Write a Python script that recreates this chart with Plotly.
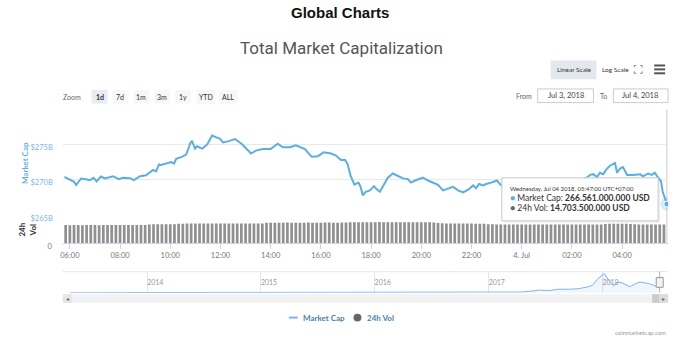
import plotly.graph_objects as go
import pandas as pd

W, H = 696, 351

# ---------------- data ----------------
mc_times = [
    "2018-07-03 05:47", "2018-07-03 06:00", "2018-07-03 06:10", "2018-07-03 06:15", "2018-07-03 06:27",
    "2018-07-03 06:38", "2018-07-03 06:48", "2018-07-03 06:57", "2018-07-03 07:04", "2018-07-03 07:14",
    "2018-07-03 07:24", "2018-07-03 07:43", "2018-07-03 07:57", "2018-07-03 08:07", "2018-07-03 08:24",
    "2018-07-03 08:33", "2018-07-03 08:48", "2018-07-03 09:02", "2018-07-03 09:11", "2018-07-03 09:19",
    "2018-07-03 09:26", "2018-07-03 09:33", "2018-07-03 09:38", "2018-07-03 09:50", "2018-07-03 10:02",
    "2018-07-03 10:09", "2018-07-03 10:14", "2018-07-03 10:26", "2018-07-03 10:38", "2018-07-03 10:43",
    "2018-07-03 10:48", "2018-07-03 10:52", "2018-07-03 10:59", "2018-07-03 11:04", "2018-07-03 11:16",
    "2018-07-03 11:28", "2018-07-03 11:40", "2018-07-03 11:49", "2018-07-03 11:59", "2018-07-03 12:06",
    "2018-07-03 12:18", "2018-07-03 12:35", "2018-07-03 12:51", "2018-07-03 13:13", "2018-07-03 13:25",
    "2018-07-03 13:41", "2018-07-03 14:00", "2018-07-03 14:17", "2018-07-03 14:29", "2018-07-03 14:46",
    "2018-07-03 15:00", "2018-07-03 15:22", "2018-07-03 15:38", "2018-07-03 15:53", "2018-07-03 16:07",
    "2018-07-03 16:24", "2018-07-03 16:36", "2018-07-03 16:48", "2018-07-03 16:58", "2018-07-03 17:04",
    "2018-07-03 17:11", "2018-07-03 17:20", "2018-07-03 17:30", "2018-07-03 17:35", "2018-07-03 17:40",
    "2018-07-03 17:47", "2018-07-03 17:57", "2018-07-03 18:07", "2018-07-03 18:11", "2018-07-03 18:21",
    "2018-07-03 18:33", "2018-07-03 18:40", "2018-07-03 18:52", "2018-07-03 19:04", "2018-07-03 19:16",
    "2018-07-03 19:28", "2018-07-03 19:35", "2018-07-03 19:45", "2018-07-03 20:04", "2018-07-03 20:16",
    "2018-07-03 20:28", "2018-07-03 20:40", "2018-07-03 20:52", "2018-07-03 21:04", "2018-07-03 21:16",
    "2018-07-03 21:28", "2018-07-03 21:40", "2018-07-03 21:52", "2018-07-03 22:04", "2018-07-03 22:11",
    "2018-07-03 22:18", "2018-07-03 22:28", "2018-07-03 22:35", "2018-07-03 22:47", "2018-07-03 23:01",
    "2018-07-03 23:08", "2018-07-03 23:16", "2018-07-03 23:30", "2018-07-04 00:00", "2018-07-04 00:30",
    "2018-07-04 01:00", "2018-07-04 01:30", "2018-07-04 02:00", "2018-07-04 02:20", "2018-07-04 02:35",
    "2018-07-04 02:44", "2018-07-04 02:51", "2018-07-04 03:00", "2018-07-04 03:07", "2018-07-04 03:15",
    "2018-07-04 03:24", "2018-07-04 03:31", "2018-07-04 03:38", "2018-07-04 03:43", "2018-07-04 03:48",
    "2018-07-04 03:55", "2018-07-04 04:02", "2018-07-04 04:12", "2018-07-04 04:26", "2018-07-04 04:43",
    "2018-07-04 04:50", "2018-07-04 05:02", "2018-07-04 05:11", "2018-07-04 05:18", "2018-07-04 05:25",
    "2018-07-04 05:33", "2018-07-04 05:37", "2018-07-04 05:42", "2018-07-04 05:47",
]
mc_values_b = [
    270.42, 270.09, 269.72, 269.25, 270.19,
    270.09, 269.95, 270.28, 269.77, 270.47,
    270.19, 270.51, 270.09, 270.28, 270.23,
    269.95, 270.51, 270.65, 271.12, 271.40,
    271.21, 272.19, 272.10, 272.29, 272.52,
    272.29, 272.99, 273.22, 273.59, 274.38,
    275.22, 275.55, 274.43, 274.76, 274.43,
    274.99, 276.30, 276.07, 275.83, 275.32,
    275.46, 275.79, 275.09, 273.73, 274.15,
    274.38, 274.38, 275.14, 274.62, 274.62,
    274.90, 274.38, 273.27, 273.36, 273.92,
    273.73, 273.45, 272.80, 272.80, 272.20,
    270.60, 269.30, 269.60, 269.00, 267.80,
    268.30, 268.50, 269.10, 268.80, 268.30,
    269.50, 270.30, 270.90, 270.50, 270.20,
    270.10, 269.60, 269.90, 270.30, 269.90,
    269.60, 269.30, 268.50, 268.80, 269.00,
    268.50, 268.20, 268.60, 269.20, 268.80,
    269.40, 269.20, 269.40, 269.60, 269.90,
    269.40, 269.00, 269.20, 269.00, 269.30,
    269.10, 269.40, 269.60, 269.90, 270.30,
    270.70, 270.80, 270.40, 271.00, 270.80,
    271.60, 272.00, 272.20, 272.40, 271.00,
    271.60, 271.80, 270.70, 270.70, 270.80,
    270.50, 270.90, 270.70, 271.00, 270.40,
    269.80, 268.30, 267.30, 266.561,
]

vol_start = "2018-07-03 05:50"
vol_values_b = [
    14.2, 14.1, 14.2, 14.2, 14.1, 14.2, 14.2, 14.2, 14.1, 14.2, 14.2, 14.2,
    14.2, 14.2, 14.3, 14.2, 14.3, 14.3, 14.3, 14.3, 14.7, 14.8, 14.9, 14.9,
    14.9, 14.9, 14.9, 15.2, 15.3, 15.4, 15.4, 15.4, 15.4, 15.5, 15.4, 15.4,
    15.4, 15.4, 15.5, 15.4, 15.4, 15.4, 15.4, 15.5, 15.4, 15.4, 15.5, 15.5,
    15.9, 16.0, 16.0, 16.0, 16.0, 16.1, 16.0, 16.0, 16.0, 16.0, 16.1, 16.0,
    16.0, 16.0, 16.1, 16.1, 16.0, 16.0, 16.1, 16.2, 16.3, 16.3, 16.4, 16.4,
    16.4, 16.4, 16.4, 16.5, 16.4, 16.4, 16.4, 16.4, 16.4, 16.4, 16.3, 16.4,
    16.4, 16.3, 16.3, 16.3, 16.2, 15.8, 15.6, 15.5, 15.4, 15.4, 15.4, 15.4,
    15.4, 15.4, 15.3, 15.3, 15.3, 14.9, 14.8, 14.7, 14.7, 14.7, 14.7, 14.7,
    14.7, 14.7, 14.6, 14.7, 14.7, 14.7, 14.7, 14.6, 14.7, 14.7, 14.7, 14.7,
    14.7, 14.7, 14.7, 14.7, 14.7, 14.7, 14.7, 14.7, 14.7, 15.1, 15.2, 15.2,
    15.2, 15.2, 15.2, 15.1, 14.8, 14.7, 14.7, 14.7, 14.7, 14.7, 14.7, 14.703,
]
vol_times = pd.date_range(vol_start, periods=len(vol_values_b), freq="10min")

nav_dates = [
    "2013-04-28", "2013-06-15", "2013-08-15", "2013-10-15", "2013-11-15", "2013-12-04",
    "2013-12-20", "2014-01-10", "2014-03-15", "2014-06-15", "2014-09-15", "2014-12-15",
    "2015-03-15", "2015-06-15", "2015-09-15", "2015-12-15", "2016-03-15", "2016-06-15",
    "2016-09-15", "2016-12-15", "2017-01-15", "2017-03-15", "2017-04-15", "2017-05-15",
    "2017-06-12", "2017-07-15", "2017-08-15", "2017-09-15", "2017-10-15", "2017-11-15",
    "2017-12-01", "2017-12-17", "2018-01-07", "2018-01-20", "2018-02-06", "2018-02-20",
    "2018-03-05", "2018-03-30", "2018-04-25", "2018-05-05", "2018-06-01", "2018-06-28",
    "2018-07-04",
]
nav_values_b = [
    1.5, 1.3, 1.4, 2.0, 5.0, 14.0,
    8.0, 10.0, 7.0, 8.0, 6.0, 4.5,
    4.0, 4.0, 3.8, 6.5, 7.0, 10.0,
    10.0, 14.0, 18.0, 22.0, 28.0, 60.0,
    110.0, 95.0, 150.0, 150.0, 170.0, 250.0,
    330.0, 600.0, 830.0, 560.0, 300.0, 470.0,
    430.0, 260.0, 440.0, 460.0, 390.0, 250.0,
    266.0,
]

x_tick_vals = ["2018-07-03 06:00", "2018-07-03 08:00", "2018-07-03 10:00", "2018-07-03 12:00",
               "2018-07-03 14:00", "2018-07-03 16:00", "2018-07-03 18:00", "2018-07-03 20:00",
               "2018-07-03 22:00", "2018-07-04 00:00", "2018-07-04 02:00", "2018-07-04 04:00"]
x_tick_text = ["06:00", "08:00", "10:00", "12:00", "14:00", "16:00", "18:00", "20:00",
               "22:00", "4. Jul", "02:00", "04:00"]
mc_tick_vals = [265, 270, 275, 280]
mc_tick_text = ["$265B", "$270B", "$275B", ""]
nav_tick_vals = ["2014-01-01", "2015-01-01", "2016-01-01", "2017-01-01", "2018-01-01"]
nav_tick_text = ["2014", "2015", "2016", "2017", "2018"]

# ---------------- helpers ----------------
def px(x):
    return x / W


def py(y):
    return 1 - y / H


LINE = "#5aaee3"
FONT = "Lato, 'Open Sans', sans-serif"

fig = go.Figure()

fig.add_trace(go.Bar(
    x=vol_times, y=[v * 1e9 for v in vol_values_b], xaxis="x", yaxis="y2",
    marker=dict(color="#909090", line=dict(width=0)), name="24h Vol", hoverinfo="skip",
))
fig.add_trace(go.Scatter(
    x=mc_times, y=mc_values_b, xaxis="x", yaxis="y", mode="lines",
    line=dict(color=LINE, width=2), name="Market Cap", hoverinfo="skip",
))
# hovered point (last point)
fig.add_trace(go.Scatter(
    x=[mc_times[-1]], y=[mc_values_b[-1]], xaxis="x", yaxis="y", mode="markers",
    marker=dict(size=13, color="rgba(90,174,227,0.25)"), hoverinfo="skip",
))
fig.add_trace(go.Scatter(
    x=[mc_times[-1]], y=[mc_values_b[-1]], xaxis="x", yaxis="y", mode="markers",
    marker=dict(size=6, color=LINE, line=dict(color="white", width=1)), hoverinfo="skip",
))
# navigator
fig.add_trace(go.Scatter(
    x=nav_dates, y=nav_values_b, xaxis="x3", yaxis="y3", mode="lines",
    line=dict(color="#7cb5ec", width=1), fill="tozeroy", fillcolor="rgba(124,181,236,0.12)",
    hoverinfo="skip",
))

fig.update_layout(
    width=W, height=H, margin=dict(l=0, r=0, t=0, b=0),
    paper_bgcolor="white", plot_bgcolor="white", showlegend=False,
    bargap=0.35, font=dict(family=FONT, color="#666", size=8),
    xaxis=dict(
        domain=[px(60), px(668)], anchor="y2",
        range=["2018-07-03 05:43", "2018-07-04 05:50"],
        tickvals=x_tick_vals, ticktext=x_tick_text,
        tickfont=dict(size=7.5, color="#777"), ticks="outside", ticklen=5, tickcolor="#ccd6eb",
        showline=True, linecolor="#ccd6eb", showgrid=False, zeroline=False,
    ),
    yaxis=dict(
        domain=[py(220), py(112)], anchor="x", range=[265, 280],
        tickvals=mc_tick_vals, ticktext=mc_tick_text,
        tickfont=dict(size=7.5, color="#7cb5ec"), gridcolor="#e9e9e9", gridwidth=1,
        zeroline=False, ticklabelshift=3, ticklabelstandoff=9,
    ),
    yaxis2=dict(
        domain=[py(249), py(222)], anchor="x", range=[0, 20.5e9],
        tickvals=[0, 20.5e9], ticktext=["0", ""],
        tickfont=dict(size=7.5, color="#777"), gridcolor="#e9e9e9",
        zeroline=False, ticklabelshift=3, ticklabelstandoff=10,
    ),
    xaxis3=dict(
        domain=[px(60), px(668)], anchor="y3",
        range=["2013-04-05", "2018-07-31"],
        tickvals=nav_tick_vals, ticktext=nav_tick_text,
        ticklabelposition="inside right", tickfont=dict(size=7, color="#999"),
        showgrid=True, gridcolor="#e6e6e6", showline=False, zeroline=False, ticks="",
    ),
    yaxis3=dict(
        domain=[py(299.5), py(278)], anchor="x3", range=[0, 915],
        showticklabels=False, showgrid=False, zeroline=False,
    ),
)

shapes = []
ann = []

def rect(x0, y0, x1, y1, fill, line="rgba(0,0,0,0)", lw=1, layer="above"):
    shapes.append(dict(type="rect", xref="paper", yref="paper", x0=px(x0), x1=px(x1),
                       y0=py(y1), y1=py(y0), fillcolor=fill, line=dict(color=line, width=lw),
                       layer=layer))


def line(x0, y0, x1, y1, color, w=1):
    shapes.append(dict(type="line", xref="paper", yref="paper", x0=px(x0), x1=px(x1),
                       y0=py(y0), y1=py(y1), line=dict(color=color, width=w)))


def text(x, y, s, size=8, color="#666", xanchor="center", bold=False, family=FONT, angle=0):
    if bold:
        s = "<b>" + s + "</b>"
    ann.append(dict(x=px(x), y=py(y), xref="paper", yref="paper", text=s, showarrow=False,
                    xanchor=xanchor, yanchor="middle", textangle=angle,
                    font=dict(size=size, color=color, family=family)))


# titles
text(338, 13, "Global Charts", size=15, color="#111", bold=True, family="Liberation Sans, Arial")
text(340, 49, "Total Market Capitalization", size=17, color="#555", family="Roboto, sans-serif")

# scale buttons / icons
rect(550, 62, 596, 81, "#e3e7ee", layer="below")
text(573, 71.5, "Linear Scale", size=6.5, color="#333")
text(615, 71.5, "Log Scale", size=6.5, color="#333")
cx, cy = 638, 71
for sx in (-1, 1):
    for sy in (-1, 1):
        line(cx + sx * 4, cy + sy * 4, cx + sx * 2, cy + sy * 4, "#888", 1)
        line(cx + sx * 4, cy + sy * 4, cx + sx * 4, cy + sy * 2, "#888", 1)
for yy in (67, 71, 75):
    line(654, yy, 665, yy, "#555", 2)

# zoom buttons
text(69, 99, "Zoom", size=7, color="#666")
btns = [("1d", 97), ("7d", 118), ("1m", 139), ("3m", 160), ("1y", 181), ("YTD", 204), ("ALL", 226)]
for lab, cxb in btns:
    wdt = 19 if lab in ("YTD", "ALL") else 16
    rect(cxb - wdt / 2, 92, cxb + wdt / 2, 106, "#e6ebf5" if lab == "1d" else "#f7f7f7", layer="below")
    text(cxb, 99, lab, size=7, color="#333", bold=(lab == "1d"))

# from / to
text(533, 98, "From", size=7, color="#666", xanchor="right")
rect(537, 91, 593, 105, "white", "#cccccc", 1, layer="below")
text(565, 98, "Jul 3, 2018", size=7.5, color="#444")
text(603, 98, "To", size=7, color="#666")
rect(613, 91, 668, 105, "white", "#cccccc", 1, layer="below")
text(640, 98, "Jul 4, 2018", size=7.5, color="#444")

# axis titles
text(22, 167, "Market Cap", size=8, color="#6aaee6", bold=True, angle=-90)
text(24, 235, "24h<br>Vol", size=8, color="#333", bold=True, angle=-90)

# crosshair at hovered point
shapes.append(dict(type="line", xref="x", yref="paper", x0=mc_times[-1], x1=mc_times[-1],
                   y0=py(249), y1=py(112), line=dict(color="#cccccc", width=1), layer="below"))

# navigator border + handle
line(60, 278, 668, 278, "#e6e6e6", 1)
shapes.append(dict(type="line", xref="x3", yref="paper", x0="2018-07-04", x1="2018-07-04",
                   y0=py(299.5), y1=py(278), line=dict(color="#b0b0b0", width=1)))
shapes.append(dict(type="rect", xref="x3", yref="paper", xsizemode="pixel", xanchor="2018-07-04",
                   x0=-3.5, x1=3.5, y0=py(294), y1=py(284), fillcolor="#f2f2f2",
                   line=dict(color="#999", width=1)))

# scrollbar
rect(60, 301, 668, 310, "#f2f2f2")
rect(60, 301, 69, 310, "#e6e6e6")
rect(652, 301, 659, 310, "#cccccc")
rect(659, 301, 668, 310, "#dcdcdc")
text(64.5, 305.5, "◂", size=6, color="#666")
text(663.5, 305.5, "▸", size=6, color="#666")

# legend
line(287, 325, 296, 325, "#7cb5ec", 2)
text(299, 325, "Market Cap", size=8, color="#4d7fae", bold=True, xanchor="left")
shapes.append(dict(type="circle", xref="paper", yref="paper", x0=px(352), x1=px(360),
                   y0=py(329), y1=py(321), fillcolor="#666", line=dict(width=0)))
text(364, 325, "24h Vol", size=8, color="#4d7fae", bold=True, xanchor="left")

# credits
text(668, 340, "coinmarketcap.com", size=6, color="#999", xanchor="right")

# tooltip
rect(503, 184, 660, 228, "rgba(0,0,0,0.06)")
rect(501, 182, 658, 226, "rgba(255,255,255,0.97)", "#c8c8c8", 1)
text(507, 193, "Wednesday, Jul 04 2018, 05:47:00 UTC+07:00", size=6, color="#333", xanchor="left")
text(507, 203,
     "<span style='color:%s'>●</span> Market Cap: <b>266.561.000.000 USD</b>" % LINE,
     size=8.5, color="#333", xanchor="left")
text(507, 213, "<span style='color:#666'>●</span> 24h Vol: <b>14.703.500.000 USD</b>",
     size=8.5, color="#333", xanchor="left")

fig.update_layout(shapes=shapes, annotations=ann)
fig.write_html("out.html")
